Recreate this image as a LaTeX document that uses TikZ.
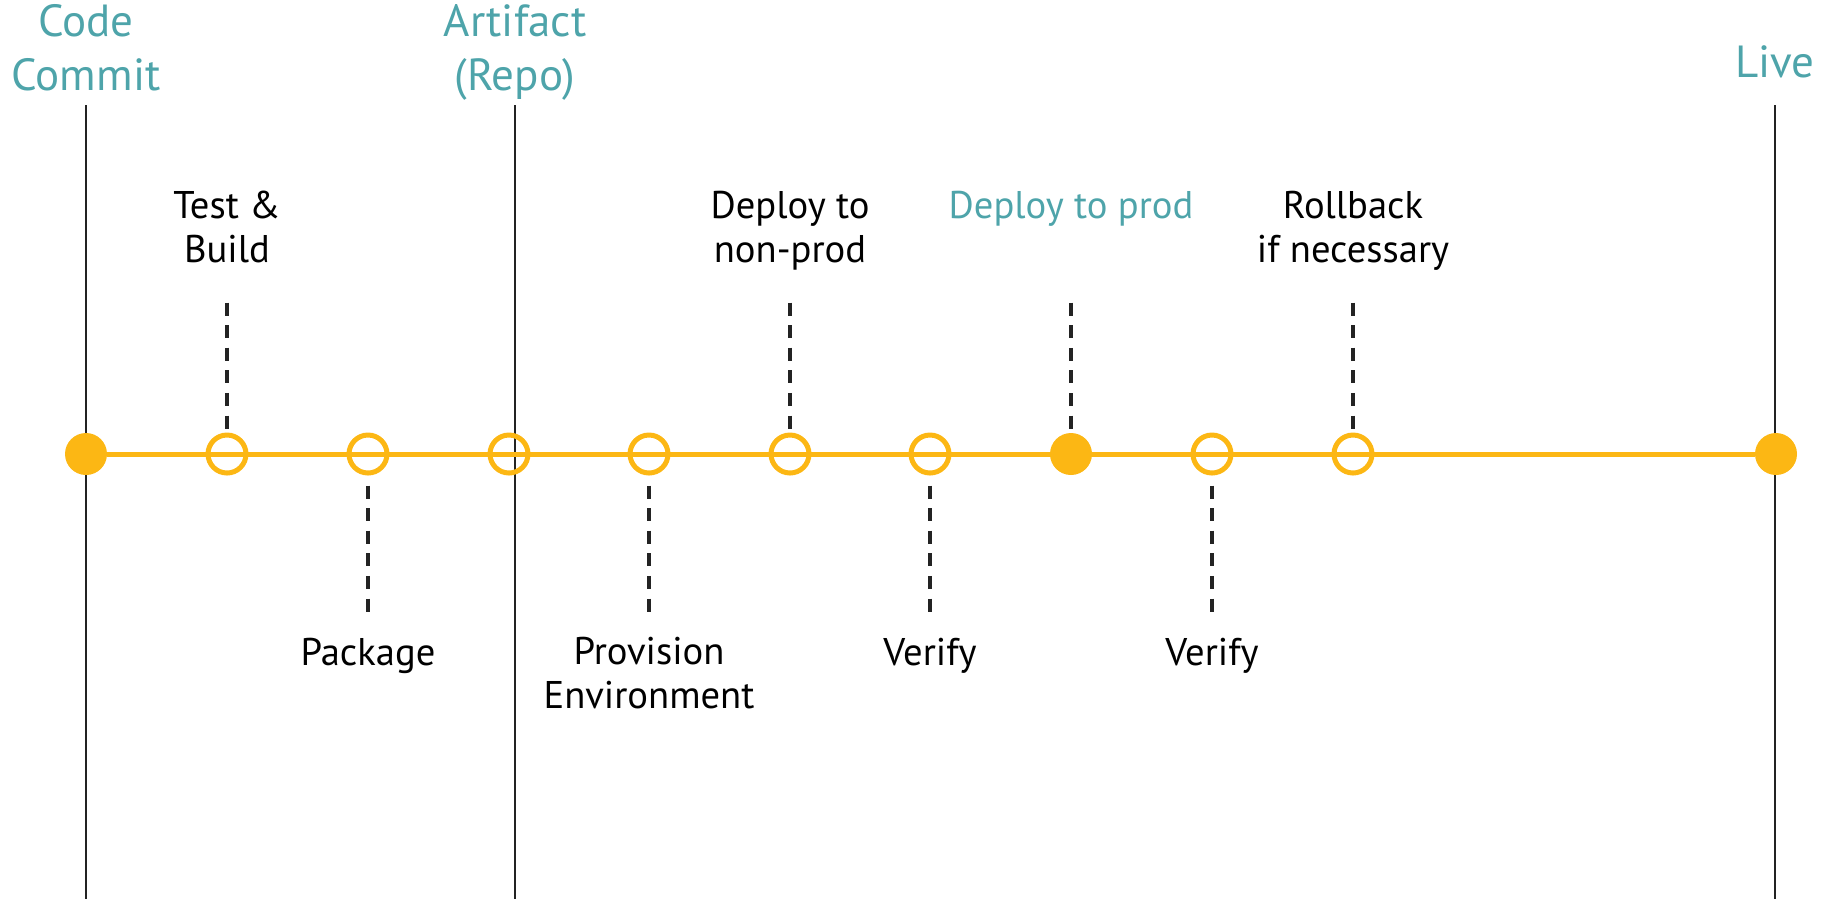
\documentclass[tikz,border=0pt]{standalone}
\usepackage{fontspec}
\setmainfont{PT Sans}
\usetikzlibrary{positioning}
\definecolor{orangei}{RGB}{252,183,20}
\definecolor{teali}{RGB}{78,164,170}
\definecolor{grayi}{RGB}{35,35,35}
\tikzset{
      fulldot/.style={
        circle,
        fill=orangei,
        inner sep=0pt,
        minimum size=21pt
      },
      ringdot/.style={
        circle,
        draw=orangei,
        line width=2.5pt,
        inner sep=0pt,
        minimum size=19pt
      },
      timeline/.style={
        draw=orangei,
        line width=2.5pt
      },
      milestone/.style={
        draw=grayi,
        line width=1.4pt
      },
      tick/.style={
        draw=grayi,
        line width=1.8pt,
        dash pattern=on 6.5pt off 4.8pt
      },
      steplabel/.style={
        align=center,
        anchor=base,
        inner sep=0pt,
        font=\fontsize{19.3}{22}\selectfont
      },
      mslabel/.style={
        align=center,
        anchor=base,
        inner sep=0pt,
        text=teali,
        font=\fontsize{22.5}{27}\selectfont
      },
    }

\begin{document}
\begin{tikzpicture}[x=0.5pt,y=-0.5pt]
  \useasboundingbox (0,0) rectangle (1827,902);

  %Milestones
  \coordinate (topCommit) at (86,105);
  \coordinate (botCommit) at (86,899);
  \coordinate (topArtifact) at (515,105);
  \coordinate (botArtifact) at (515,899);
  \coordinate (topLive) at (1775,105);
  \coordinate (botLive) at (1775,899);
  \draw[milestone] (topCommit) -- (botCommit);
  \draw[milestone] (topArtifact) -- (botArtifact);
  \draw[milestone] (topLive) -- (botLive);

  \node[mslabel] (lblCommit) at (86,90) {Code\\Commit};
  \node[mslabel] (lblArtifact) at (515,90) {Artifact\\(Repo)};
  \node[mslabel] (lblLive) at (1775,77) {Live};

  %Timeline
  \node[fulldot] (dotCommit) at (86,454) {};
  \node[ringdot] (dotBuild) at (227,454) {};
  \node[ringdot] (dotPackage) at (368,454) {};
  \node[ringdot] (dotArtifact) at (509,454) {};
  \node[ringdot] (dotProvision) at (649,454) {};
  \node[ringdot] (dotNonprod) at (790,454) {};
  \node[ringdot] (dotVerifyi) at (930,454) {};
  \node[fulldot] (dotProd) at (1071,454) {};
  \node[ringdot] (dotVerifyii) at (1212,454) {};
  \node[ringdot] (dotRollback) at (1353,454) {};
  \node[fulldot] (dotLive) at (1776,454) {};
  \draw[timeline] (dotCommit) -- (dotLive);

  %Steps above
  \coordinate[above=65pt of dotBuild] (tickBuild);
  \coordinate[above=65pt of dotNonprod] (tickNonprod);
  \coordinate[above=65pt of dotProd] (tickProd);
  \coordinate[above=65pt of dotRollback] (tickRollback);
  \draw[tick] (tickBuild) -- (dotBuild);
  \draw[tick] (tickNonprod) -- (dotNonprod);
  \draw[tick] (tickProd) -- (dotProd);
  \draw[tick] (tickRollback) -- (dotRollback);

  \node[steplabel] (lblBuild) at (227,262) {Test \&\\Build};
  \node[steplabel] (lblNonprod) at (790,262) {Deploy to\\non-prod};
  \node[steplabel,text=teali] (lblProd) at (1071,218) {Deploy to prod};
  \node[steplabel] (lblRollback) at (1353,262) {Rollback\\if necessary};

  %Steps below
  \coordinate[below=5pt of dotPackage] (tickPackageA);
  \coordinate[below=70pt of dotPackage] (tickPackageB);
  \coordinate[below=5pt of dotProvision] (tickProvisionA);
  \coordinate[below=70pt of dotProvision] (tickProvisionB);
  \coordinate[below=5pt of dotVerifyi] (tickVerifyiA);
  \coordinate[below=70pt of dotVerifyi] (tickVerifyiB);
  \coordinate[below=5pt of dotVerifyii] (tickVerifyiiA);
  \coordinate[below=70pt of dotVerifyii] (tickVerifyiiB);
  \draw[tick] (tickPackageA) -- (tickPackageB);
  \draw[tick] (tickProvisionA) -- (tickProvisionB);
  \draw[tick] (tickVerifyiA) -- (tickVerifyiB);
  \draw[tick] (tickVerifyiiA) -- (tickVerifyiiB);

  \node[steplabel] (lblPackage) at (368,665) {Package};
  \node[steplabel] (lblProvision) at (649,708) {Provision\\Environment};
  \node[steplabel] (lblVerifyi) at (930,665) {Verify};
  \node[steplabel] (lblVerifyii) at (1212,665) {Verify};

\end{tikzpicture}
\end{document}
